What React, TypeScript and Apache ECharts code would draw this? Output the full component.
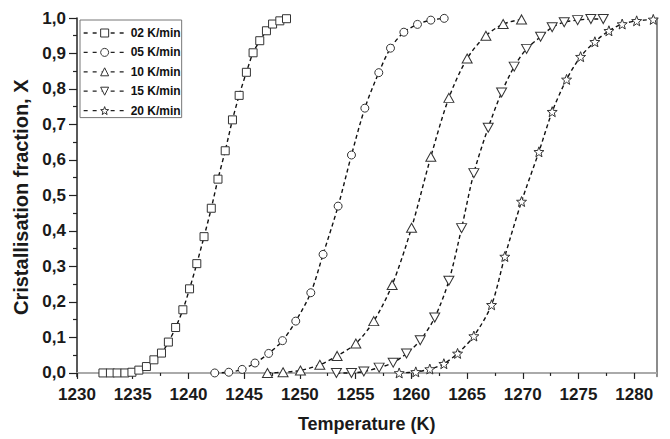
import React, { useEffect, useRef } from "react";
import * as echarts from "echarts";

const seriesNames = ["02 K/min", "05 K/min", "10 K/min", "15 K/min", "20 K/min"];

const t02 = [1232.33, 1233.0, 1233.6, 1234.3, 1234.93, 1235.55, 1236.23, 1236.9, 1237.58, 1238.2, 1238.85, 1239.5, 1240.1, 1240.75, 1241.4, 1242.05, 1242.65, 1243.3, 1243.95, 1244.55, 1245.2, 1245.8, 1246.4, 1247.0, 1247.55, 1248.2, 1248.8];
const x02 = [0, 0, 0, 0, 0.002, 0.008, 0.018, 0.037, 0.056, 0.087, 0.128, 0.178, 0.237, 0.308, 0.384, 0.464, 0.546, 0.626, 0.713, 0.782, 0.847, 0.902, 0.936, 0.964, 0.983, 0.992, 0.998];

const t05 = [1242.36, 1243.62, 1244.82, 1245.97, 1247.2, 1248.44, 1249.63, 1250.98, 1252.08, 1253.43, 1254.63, 1255.83, 1257.08, 1258.13, 1259.33, 1260.55, 1261.75, 1262.95];
const x05 = [0, 0.002, 0.01, 0.028, 0.055, 0.091, 0.146, 0.226, 0.334, 0.47, 0.614, 0.746, 0.846, 0.915, 0.96, 0.982, 0.994, 0.999];

const t10 = [1247.09, 1248.49, 1250.05, 1251.79, 1253.34, 1255.02, 1256.63, 1258.28, 1260.02, 1261.75, 1263.37, 1265.01, 1266.69, 1268.24, 1269.89];
const x10 = [0, 0.002, 0.007, 0.023, 0.048, 0.083, 0.146, 0.248, 0.409, 0.609, 0.775, 0.886, 0.95, 0.983, 0.996];

const t15 = [1253.28, 1254.63, 1255.74, 1257.11, 1258.37, 1259.57, 1260.8, 1262.1, 1263.37, 1264.51, 1265.61, 1266.9, 1268.1, 1269.23, 1270.34, 1271.6, 1272.64, 1273.72, 1274.92, 1276.11, 1277.22];
const x15 = [0, 0, 0.004, 0.015, 0.029, 0.055, 0.092, 0.156, 0.26, 0.408, 0.563, 0.691, 0.79, 0.863, 0.913, 0.947, 0.974, 0.988, 0.994, 0.997, 0.997];

const t20 = [1258.91, 1260.4, 1261.66, 1262.92, 1264.15, 1265.61, 1267.2, 1268.39, 1269.89, 1271.45, 1272.64, 1273.93, 1275.19, 1276.47, 1277.73, 1278.92, 1280.22, 1281.71];
const x20 = [0, 0.003, 0.011, 0.026, 0.055, 0.104, 0.192, 0.328, 0.483, 0.623, 0.736, 0.827, 0.891, 0.933, 0.964, 0.983, 0.992, 0.996];

const xMajorTicks = [1230, 1235, 1240, 1245, 1250, 1255, 1260, 1265, 1270, 1275, 1280];
const xMinorTicks = [1232.5, 1237.5, 1242.5, 1247.5, 1252.5, 1257.5, 1262.5, 1267.5, 1272.5, 1277.5];
const yMajorTicks = [0, 0.1, 0.2, 0.3, 0.4, 0.5, 0.6, 0.7, 0.8, 0.9, 1.0];
const yMinorTicks = [0.05, 0.15, 0.25, 0.35, 0.45, 0.55, 0.65, 0.75, 0.85, 0.95];

const FONT = "'Liberation Sans', Arial, sans-serif";

function starPath(): string {
  const pts: string[] = [];
  for (let i = 0; i < 10; i++) {
    const r = i % 2 === 0 ? 50 : 21;
    const a = -Math.PI / 2 + (i * Math.PI) / 5;
    const px = 50 + r * Math.cos(a);
    const py = 52 + r * Math.sin(a);
    pts.push((i === 0 ? "M" : "L") + px.toFixed(2) + " " + py.toFixed(2));
  }
  return "path://" + pts.join(" ") + " Z";
}

export default function App() {
  const ref = useRef<HTMLDivElement>(null);
  useEffect(() => {
    if (!ref.current) return;
    const chart = echarts.init(ref.current, undefined, { renderer: "svg" });
    const pair = (t: number[], v: number[]) => t.map((tt, i) => [tt, v[i]]);
    const datasets = [pair(t02, x02), pair(t05, x05), pair(t10, x10), pair(t15, x15), pair(t20, x20)];
    const symbols: any[] = ["rect", "circle", "triangle", "triangle", starPath()];
    const sizes: any[] = [8, 8, [10, 9], [10, 9], 10];
    const rotates = [0, 0, 0, 180, 0];
    const xMin = 1230, xMax = 1282, yMin = -0.01, yMax = 1.0;
    const axisFont = { fontFamily: FONT, fontWeight: "bold" as const, color: "#1a1a1a" };
    const option: any = {
      animation: false,
      backgroundColor: "#fff",
      grid: { left: 77, right: 13.5, top: 18, bottom: 62.5, containLabel: false },
      legend: {
        orient: "vertical",
        left: 80,
        top: 20,
        itemWidth: 42,
        itemHeight: 10,
        itemGap: 7.4,
        padding: [7, 1, 1, 3],
        borderColor: "#777",
        borderWidth: 1,
        backgroundColor: "#fff",
        lineStyle: { type: [4, 5], width: 1.3, color: "#222" },
        itemStyle: { color: "#fff", borderColor: "#333", borderWidth: 1 },
        textStyle: { fontFamily: FONT, fontWeight: "bold", fontSize: 12, color: "#111" },
        data: seriesNames,
      },
      xAxis: [
        {
          type: "value",
          min: xMin,
          max: xMax,
          position: "bottom",
          name: "Temperature (K)",
          nameLocation: "middle",
          nameGap: 38,
          nameTextStyle: { ...axisFont, fontSize: 18 },
          axisLine: { show: true, lineStyle: { color: "#222", width: 1.5 } },
          axisTick: { show: true, customValues: xMajorTicks, length: 6, inside: false, lineStyle: { color: "#222", width: 1.2 } },
          axisLabel: {
            show: true,
            customValues: xMajorTicks,
            margin: 9,
            fontSize: 17,
            ...axisFont,
            formatter: (v: number) => String(Math.round(v)),
          },
          splitLine: { show: false },
        },
        {
          type: "value",
          min: xMin,
          max: xMax,
          position: "bottom",
          axisLine: { show: false },
          axisTick: { show: true, customValues: xMinorTicks, length: 3, lineStyle: { color: "#222", width: 1.2 } },
          axisLabel: { show: false },
          splitLine: { show: false },
        },
        {
          type: "value",
          min: xMin,
          max: xMax,
          position: "top",
          axisLine: { show: true, lineStyle: { color: "#aaa", width: 2 } },
          axisTick: { show: false },
          axisLabel: { show: false },
          splitLine: { show: false },
        },
      ],
      yAxis: [
        {
          type: "value",
          min: yMin,
          max: yMax,
          position: "left",
          name: "Cristallisation fraction, X",
          nameLocation: "middle",
          nameGap: 43,
          nameTextStyle: { ...axisFont, fontSize: 20 },
          axisLine: { show: true, lineStyle: { color: "#222", width: 1.5 } },
          axisTick: { show: true, customValues: yMajorTicks, length: 8, lineStyle: { color: "#222", width: 1.2 } },
          axisLabel: {
            show: true,
            customValues: yMajorTicks,
            margin: 11,
            fontSize: 17,
            ...axisFont,
            formatter: (v: number) => v.toFixed(1).replace(".", ","),
          },
          splitLine: { show: false },
        },
        {
          type: "value",
          min: yMin,
          max: yMax,
          position: "left",
          axisLine: { show: false },
          axisTick: { show: true, customValues: yMinorTicks, length: 4, lineStyle: { color: "#222", width: 1.2 } },
          axisLabel: { show: false },
          splitLine: { show: false },
        },
        {
          type: "value",
          min: yMin,
          max: yMax,
          position: "right",
          axisLine: { show: true, lineStyle: { color: "#666", width: 1.5 } },
          axisTick: { show: false },
          axisLabel: { show: false },
          splitLine: { show: false },
        },
      ],
      series: seriesNames.map((name, i) => ({
        name,
        type: "line",
        xAxisIndex: 0,
        yAxisIndex: 0,
        data: datasets[i],
        smooth: 0.3,
        symbol: symbols[i],
        symbolSize: sizes[i],
        symbolRotate: rotates[i],
        showAllSymbol: true,
        lineStyle: { color: "#111", width: 1.4, type: [4, 3] },
        itemStyle: { color: "#fff", borderColor: "#333", borderWidth: 1 },
      })),
    };
    chart.setOption(option);
    return () => chart.dispose();
  }, []);
  return <div ref={ref} style={{ position: "absolute", left: 0, top: 0, width: 670, height: 439 }} />;
}
